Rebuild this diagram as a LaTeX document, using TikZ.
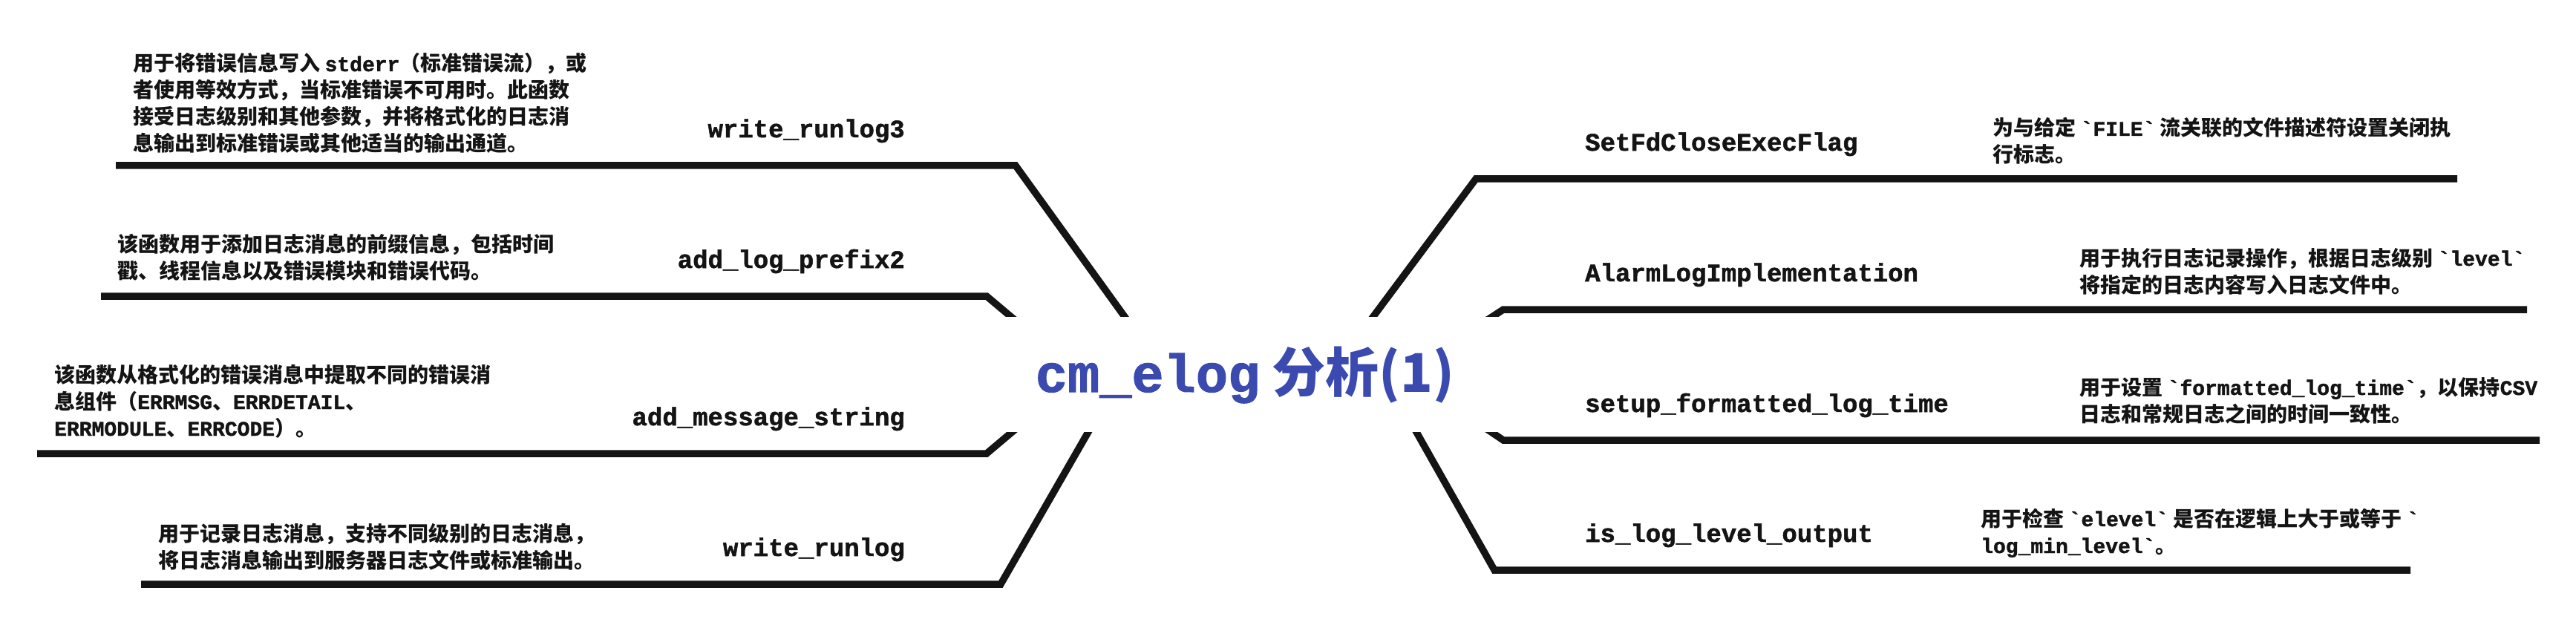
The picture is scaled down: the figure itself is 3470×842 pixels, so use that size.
\documentclass[tikz,border=0pt]{standalone}
\usepackage{fontspec}
\newfontfamily\cjk{Noto Sans CJK SC}
\newfontfamily\codefont{Liberation Mono}[Ligatures=TeXOff, BoldFeatures={FakeBold=1.5}]
\newcommand\code[1]{{\codefont\bfseries #1}}
\definecolor{inkblack}{RGB}{20,20,20}
\definecolor{titleblue}{RGB}{59,74,175}
\tikzset{
  branch/.style={draw=inkblack, line width=9.5pt, line join=miter},
  fname/.style={inner sep=0pt, text=inkblack, font=\codefont\bfseries\fontsize{34}{40}\selectfont},
  fdesc/.style={inner sep=0pt, text=inkblack, align=left, font=\cjk\bfseries\fontsize{28}{36}\selectfont},
}

\begin{document}
\begin{tikzpicture}[x=1pt,y=-1pt]
        \useasboundingbox (0,0) rectangle (3470,842);

        % left branches
        \coordinate (r1) at (1526,442);  \coordinate (b1) at (1368,223);  \coordinate (e1) at (156,223);
        \coordinate (r2) at (1380,442);  \coordinate (b2) at (1329,399);  \coordinate (e2) at (136,399);
        \coordinate (r3) at (1380,568);  \coordinate (b3) at (1329,611);  \coordinate (e3) at (50,611);
        \coordinate (r4) at (1474,568);  \coordinate (b4) at (1348,787);  \coordinate (e4) at (190,787);
        % right branches
        \coordinate (r5) at (1839,441);  \coordinate (b5) at (1988,241);  \coordinate (e5) at (3310,241);
        \coordinate (r6) at (1982,445);  \coordinate (b6) at (2025,417);  \coordinate (e6) at (3404,417);
        \coordinate (r7) at (1982,564);  \coordinate (b7) at (2025,593);  \coordinate (e7) at (3421,593);
        \coordinate (r8) at (1900,568);  \coordinate (b8) at (2013,768);  \coordinate (e8) at (3247,768);

        \draw [branch] (r1) -- (b1) -- (e1);
        \draw [branch] (r2) -- (b2) -- (e2);
        \draw [branch] (r3) -- (b3) -- (e3);
        \draw [branch] (r4) -- (b4) -- (e4);
        \draw [branch] (r5) -- (b5) -- (e5);
        \draw [branch] (r6) -- (b6) -- (e6);
        \draw [branch] (r7) -- (b7) -- (e7);
        \draw [branch] (r8) -- (b8) -- (e8);

        % centre
        \node [fill=white, inner sep=0pt, minimum width=760pt, minimum height=155pt,
               text height=47pt, text depth=0pt, text=titleblue] (root) at (1677,504.5)
              {\codefont\bfseries\fontsize{72}{80}\selectfont cm\_elog\cjk\bfseries\ 分析(1)};

        % function names
        \node [fname, anchor=base east] (n1) at (1219,185) {write\_runlog3};
        \node [fname, anchor=base east] (n2) at (1219,361) {add\_log\_prefix2};
        \node [fname, anchor=base east] (n3) at (1219,573) {add\_message\_string};
        \node [fname, anchor=base east] (n4) at (1219,749) {write\_runlog};
        \node [fname, anchor=base west] (n5) at (2135,203) {SetFdCloseExecFlag};
        \node [fname, anchor=base west] (n6) at (2135,379) {AlarmLogImplementation};
        \node [fname, anchor=base west] (n7) at (2135,555) {setup\_formatted\_log\_time};
        \node [fname, anchor=base west] (n8) at (2135,730) {is\_log\_level\_output};

        % descriptions (base = last line)
        \node [fdesc, anchor=base west] (d1) at (179,204)
              {用于将错误信息写入 \code{stderr}（标准错误流），或\\者使用等效方式，当标准错误不可用时。此函数\\接受日志级别和其他参数，并将格式化的日志消\\息输出到标准错误或其他适当的输出通道。};
        \node [fdesc, anchor=base west] (d2) at (158,375)
              {该函数用于添加日志消息的前缀信息，包括时间\\戳、线程信息以及错误模块和错误代码。};
        \node [fdesc, anchor=base west] (d3) at (73,587)
              {该函数从格式化的错误消息中提取不同的错误消\\息组件（\code{ERRMSG}、\code{ERRDETAIL}、\\\code{ERRMODULE}、\code{ERRCODE}）。};
        \node [fdesc, anchor=base west] (d4) at (213,765)
              {用于记录日志消息，支持不同级别的日志消息，\\将日志消息输出到服务器日志文件或标准输出。};
        \node [fdesc, anchor=base west] (d5) at (2684,219)
              {为与给定 \code{`FILE`} 流关联的文件描述符设置关闭执\\行标志。};
        \node [fdesc, anchor=base west] (d6) at (2801,394)
              {用于执行日志记录操作，根据日志级别 \code{`level`}\\将指定的日志内容写入日志文件中。};
        \node [fdesc, anchor=base west] (d7) at (2801,568)
              {用于设置 \code{`formatted\_log\_time`}，以保持\code{CSV}\\日志和常规日志之间的时间一致性。};
        \node [fdesc, anchor=base west] (d8) at (2668,745)
              {用于检查 \code{`elevel`} 是否在逻辑上大于或等于 \code{`}\\\code{log\_min\_level`}。};
\end{tikzpicture}
\end{document}
